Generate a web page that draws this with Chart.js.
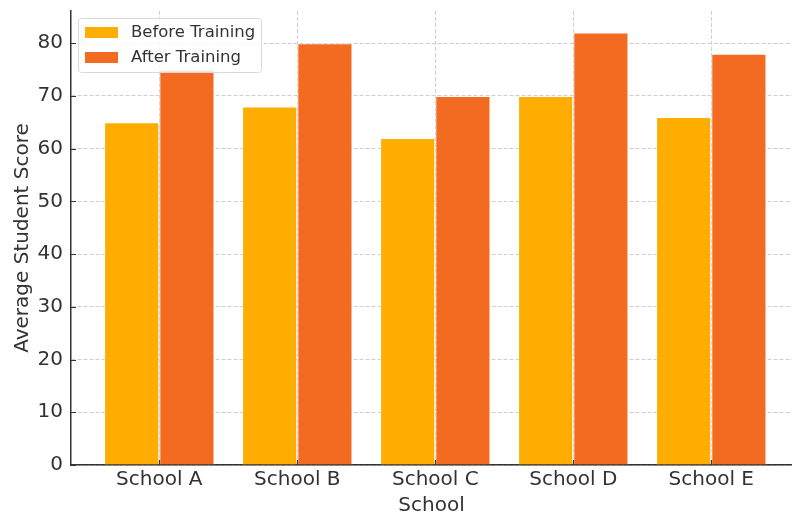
<!DOCTYPE html>
<html>
<head>
<meta charset="utf-8">
<script src="https://cdn.jsdelivr.net/npm/chart.js@4"></script>
<style>
  html, body { margin: 0; padding: 0; background: #fff; }
  #wrap { width: 792px; height: 515px; }
</style>
</head>
<body>
<div id="wrap"><canvas id="scoreChart" width="792" height="515"></canvas></div>
<script>
const schools = ["School A", "School B", "School C", "School D", "School E"];
const beforeScores = [65, 68, 62, 70, 66];
const afterScores = [75, 80, 70, 82, 78];
const yTicks = [0, 10, 20, 30, 40, 50, 60, 70, 80];

const beforeColor = "#ffad00";
const afterColor = "#f26b21";
const axisColor = "#333333";
const gridColor = "#cfcfcf";
const fontFamily = "'DejaVu Sans', sans-serif";

Chart.defaults.font.family = fontFamily;
Chart.defaults.color = axisColor;

// legend box drawn inside the plot, top-left
const boxLegend = {
  id: "boxLegend",
  afterDatasetsDraw(chart) {
    const { ctx, chartArea } = chart;
    const x = chartArea.left + 7;
    const y = chartArea.top + 7;
    const w = 183, h = 54;
    ctx.save();
    ctx.fillStyle = "rgba(255,255,255,0.8)";
    ctx.strokeStyle = "#d9d9d9";
    ctx.lineWidth = 1;
    ctx.beginPath();
    ctx.roundRect(x + 0.5, y + 0.5, w, h, 3);
    ctx.fill();
    ctx.stroke();
    const items = [["Before Training", beforeColor], ["After Training", afterColor]];
    ctx.font = "16.5px " + fontFamily;
    ctx.textBaseline = "middle";
    items.forEach((it, i) => {
      const ry = y + 9 + i * 25;
      ctx.fillStyle = it[1];
      ctx.fillRect(x + 7, ry, 33, 11);
      ctx.fillStyle = axisColor;
      ctx.fillText(it[0], x + 53, ry + 6);
    });
    ctx.restore();
  }
};

// matplotlib-style inward tick marks
const inwardTicks = {
  id: "inwardTicks",
  afterDatasetsDraw(chart) {
    const { ctx, chartArea, scales } = chart;
    ctx.save();
    ctx.strokeStyle = axisColor;
    ctx.lineWidth = 1.2;
    ctx.beginPath();
    schools.forEach((s, i) => {
      const px = Math.round(scales.x.getPixelForValue(i)) + 0.5;
      ctx.moveTo(px, chartArea.bottom);
      ctx.lineTo(px, chartArea.bottom - 5);
    });
    yTicks.forEach((v) => {
      const py = Math.round(scales.y.getPixelForValue(v)) + 0.5;
      ctx.moveTo(chartArea.left, py);
      ctx.lineTo(chartArea.left + 5, py);
    });
    ctx.stroke();
    ctx.restore();
  }
};

const ctx = document.getElementById("scoreChart").getContext("2d");

new Chart(ctx, {
  type: "bar",
  data: {
    datasets: [
      {
        label: "Before Training",
        data: beforeScores.map((v, i) => ({ x: i, y: v })),
        backgroundColor: beforeColor,
        borderColor: "rgba(255,255,255,0.35)",
        borderWidth: 1,
        categoryPercentage: 0.8,
        barPercentage: 1.0,
      },
      {
        label: "After Training",
        data: afterScores.map((v, i) => ({ x: i, y: v })),
        backgroundColor: afterColor,
        borderColor: "rgba(255,255,255,0.35)",
        borderWidth: 1,
        categoryPercentage: 0.8,
        barPercentage: 1.0,
      },
    ],
  },
  options: {
    responsive: false,
    animation: false,
    layout: { padding: { top: 11, right: 0, left: 0, bottom: 0 } },
    plugins: {
      legend: { display: false },
      tooltip: { enabled: false },
    },
    scales: {
      x: {
        type: "linear",
        min: -0.64,
        max: 4.585,
        offset: false,
        afterFit(scale) {
          scale.height = 50;
          scale.paddingLeft = 0;
          scale.paddingRight = 0;
        },
        afterBuildTicks(scale) {
          scale.ticks = schools.map((s, i) => ({ value: i }));
        },
        ticks: {
          font: { size: 20 },
          color: axisColor,
          padding: 3,
          callback: (v) => schools[v],
        },
        grid: {
          offset: false,
          color: gridColor,
          lineWidth: 1,
          drawTicks: false,
        },
        border: { color: axisColor, width: 1.5, dash: [4, 2] },
        title: {
          display: true,
          text: "School",
          font: { size: 20 },
          color: axisColor,
          padding: { top: 0, bottom: -3 },
        },
      },
      y: {
        min: 0,
        max: 86.1,
        afterFit(scale) {
          scale.width = 71;
          scale.paddingTop = 0;
          scale.paddingBottom = 0;
        },
        afterBuildTicks(scale) {
          scale.ticks = yTicks.map((v) => ({ value: v }));
        },
        ticks: {
          font: { size: 20 },
          color: axisColor,
          padding: 8,
        },
        grid: {
          color: gridColor,
          lineWidth: 1,
          drawTicks: false,
        },
        border: { color: axisColor, width: 1.5, dash: [4, 2] },
        title: {
          display: true,
          text: "Average Student Score",
          font: { size: 20 },
          color: axisColor,
          padding: { top: 11, bottom: 0 },
        },
      },
    },
  },
  plugins: [boxLegend, inwardTicks],
});
</script>
</body>
</html>
